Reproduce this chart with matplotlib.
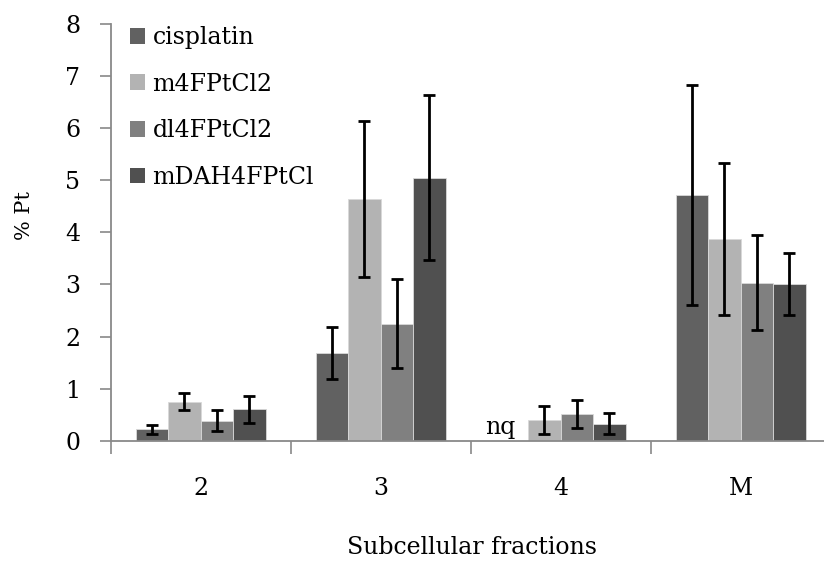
import numpy as np
import matplotlib
matplotlib.use("Agg")
import matplotlib.pyplot as plt
from matplotlib.patches import Patch

plt.rcParams['font.family'] = ['DejaVu Serif']

categories = ["2", "3", "4", "M"]
series = ["cisplatin", "m4FPtCl2", "dl4FPtCl2", "mDAH4FPtCl"]
colors = ["#616161", "#b3b3b3", "#808080", "#505050"]

cisplatin = [0.22, 1.68, np.nan, 4.72]
m4FPtCl2 = [0.75, 4.64, 0.39, 3.88]
dl4FPtCl2 = [0.38, 2.25, 0.52, 3.03]
mDAH4FPtCl = [0.60, 5.05, 0.33, 3.01]

err_cisplatin = [0.09, 0.50, np.nan, 2.11]
err_m4FPtCl2 = [0.17, 1.50, 0.27, 1.46]
err_dl4FPtCl2 = [0.20, 0.85, 0.27, 0.91]
err_mDAH4FPtCl = [0.26, 1.58, 0.20, 0.60]

values = [cisplatin, m4FPtCl2, dl4FPtCl2, mDAH4FPtCl]
errors = [err_cisplatin, err_m4FPtCl2, err_dl4FPtCl2, err_mDAH4FPtCl]

W, H = 824, 561
fig = plt.figure(figsize=(W / 100, H / 100), dpi=100)
left_px, right_px, y0_px, y8_px = 110.7, 824, 440.7, 24
ax = fig.add_axes([left_px / W, (H - y0_px) / H, (right_px - left_px) / W, (y0_px - y8_px) / H])

x = np.arange(len(categories))
bw = 0.1806
spine_c = "#898989"
for i, (vals, errs, c, name) in enumerate(zip(values, errors, colors, series)):
    pos = x + (i - 1.5) * bw
    ax.bar(pos, vals, width=bw, color=c, edgecolor="#d9d9d9", linewidth=0.6, label=name, zorder=2)
    ax.errorbar(pos, vals, yerr=errs, fmt="none", ecolor="black", elinewidth=2.0,
                capsize=4.2, capthick=2.0, zorder=3)

ax.text(1.665, 0.13, "nq", ha="center", va="baseline", fontsize=17)

ax.set_ylim(0, 8)
ax.set_xlim(-0.5, (right_px - left_px) / 180 - 0.5)
ax.set_yticks(range(0, 9))
ax.tick_params(axis="y", length=8, width=1.2, color=spine_c, pad=14, labelsize=17, direction="out")

ax.set_xticks([-0.5, 0.5, 1.5, 2.5])
ax.set_xticklabels([])
ax.set_xticks(x, minor=True)
ax.set_xticklabels(categories, minor=True)
ax.tick_params(axis="x", which="major", length=9, width=1.2, color=spine_c, direction="out")
ax.tick_params(axis="x", which="minor", length=0, pad=26, labelsize=17)

for s in ["top", "right"]:
    ax.spines[s].set_visible(False)
for s in ["left", "bottom"]:
    ax.spines[s].set_color(spine_c)
    ax.spines[s].set_linewidth(1.3)

handles = [Patch(facecolor=c, edgecolor="none") for c in colors]
ax.legend(handles, series, loc="upper left",
          bbox_to_anchor=((130 - left_px) / (right_px - left_px), 1.0 - 2 / (y0_px - y8_px)),
          frameon=False, fontsize=17, handlelength=0.65, handleheight=0.65,
          handletextpad=0.3, labelspacing=1.0, borderaxespad=0, borderpad=0)

fig.text(25 / W, 1 - 215 / H, "% Pt", rotation=90, ha="center", va="center", fontsize=15)
fig.text(472 / W, 1 - 548 / H, "Subcellular fractions", ha="center", va="center", fontsize=17)

fig.savefig("out.png", dpi=100)
